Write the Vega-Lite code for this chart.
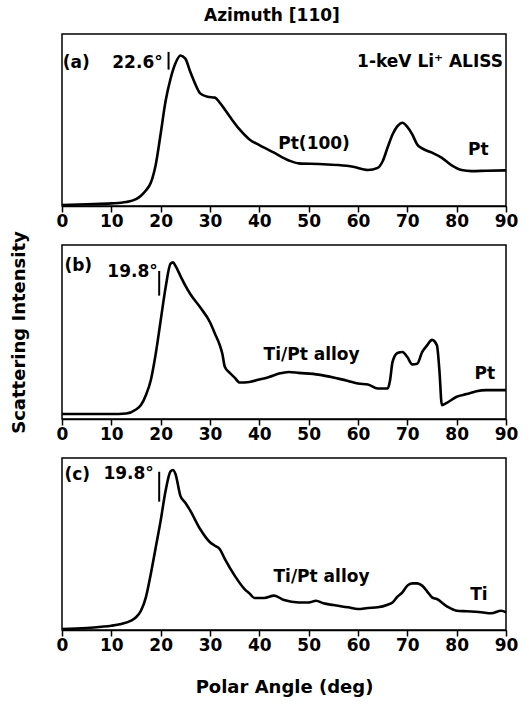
{
  "$schema": "https://vega.github.io/schema/vega-lite/v6.json",
  "padding": {"left": 9, "top": 7, "right": 12, "bottom": 5},
  "background": "white",
  "title": {"text": "Azimuth [110]", "font": "DejaVu Sans", "fontWeight": "bold", "fontSize": 17, "anchor": "middle", "offset": 8, "dx": 8, "color": "black"},
  "config": {
    "view": {"stroke": "black", "strokeWidth": 1.5},
    "font": "DejaVu Sans",
    "axis": {"labelFont": "DejaVu Sans", "titleFont": "DejaVu Sans", "labelColor": "black", "titleColor": "black", "domainColor": "black", "tickColor": "black", "labelFontWeight": "bold", "titleFontWeight": "bold", "grid": false}
  },
  "datasets": {
    "curves": [
      {"p":"a","x":0,"y":0.006},{"p":"a","x":5,"y":0.01},{"p":"a","x":10,"y":0.015},{"p":"a","x":13,"y":0.023},{"p":"a","x":15,"y":0.04},{"p":"a","x":16,"y":0.06},{"p":"a","x":17,"y":0.09},{"p":"a","x":18,"y":0.135},{"p":"a","x":19,"y":0.24},{"p":"a","x":20,"y":0.42},{"p":"a","x":21,"y":0.61},{"p":"a","x":22,"y":0.74},{"p":"a","x":23,"y":0.83},{"p":"a","x":24,"y":0.875},{"p":"a","x":25,"y":0.857},{"p":"a","x":26,"y":0.78},{"p":"a","x":27,"y":0.71},{"p":"a","x":28,"y":0.655},{"p":"a","x":29.5,"y":0.635},{"p":"a","x":31,"y":0.63},{"p":"a","x":32,"y":0.6},{"p":"a","x":34,"y":0.52},{"p":"a","x":36,"y":0.445},{"p":"a","x":38,"y":0.387},{"p":"a","x":40,"y":0.354},{"p":"a","x":43,"y":0.31},{"p":"a","x":46,"y":0.265},{"p":"a","x":48,"y":0.248},{"p":"a","x":52,"y":0.244},{"p":"a","x":56,"y":0.238},{"p":"a","x":59,"y":0.228},{"p":"a","x":62,"y":0.209},{"p":"a","x":64,"y":0.222},{"p":"a","x":65,"y":0.26},{"p":"a","x":66,"y":0.34},{"p":"a","x":67,"y":0.416},{"p":"a","x":68,"y":0.464},{"p":"a","x":69,"y":0.484},{"p":"a","x":70,"y":0.46},{"p":"a","x":71,"y":0.416},{"p":"a","x":72,"y":0.358},{"p":"a","x":73,"y":0.335},{"p":"a","x":75,"y":0.31},{"p":"a","x":77,"y":0.28},{"p":"a","x":79,"y":0.236},{"p":"a","x":81,"y":0.209},{"p":"a","x":83,"y":0.203},{"p":"a","x":86,"y":0.205},{"p":"a","x":90,"y":0.207},
      {"p":"b","x":0,"y":0.029},{"p":"b","x":10,"y":0.029},{"p":"b","x":13,"y":0.032},{"p":"b","x":15,"y":0.055},{"p":"b","x":16,"y":0.08},{"p":"b","x":17,"y":0.137},{"p":"b","x":18,"y":0.223},{"p":"b","x":19,"y":0.375},{"p":"b","x":20,"y":0.566},{"p":"b","x":21,"y":0.756},{"p":"b","x":22,"y":0.893},{"p":"b","x":22.5,"y":0.9},{"p":"b","x":23,"y":0.88},{"p":"b","x":24,"y":0.823},{"p":"b","x":25,"y":0.766},{"p":"b","x":26,"y":0.718},{"p":"b","x":28,"y":0.642},{"p":"b","x":30,"y":0.556},{"p":"b","x":31,"y":0.49},{"p":"b","x":32,"y":0.423},{"p":"b","x":32.5,"y":0.375},{"p":"b","x":33,"y":0.3},{"p":"b","x":34,"y":0.265},{"p":"b","x":35,"y":0.238},{"p":"b","x":36,"y":0.21},{"p":"b","x":38,"y":0.213},{"p":"b","x":40,"y":0.227},{"p":"b","x":42,"y":0.242},{"p":"b","x":44,"y":0.261},{"p":"b","x":46,"y":0.27},{"p":"b","x":48,"y":0.265},{"p":"b","x":52,"y":0.255},{"p":"b","x":56,"y":0.232},{"p":"b","x":58,"y":0.219},{"p":"b","x":60,"y":0.204},{"p":"b","x":62,"y":0.198},{"p":"b","x":64,"y":0.175},{"p":"b","x":66,"y":0.175},{"p":"b","x":66.5,"y":0.223},{"p":"b","x":67,"y":0.328},{"p":"b","x":68,"y":0.379},{"p":"b","x":69,"y":0.385},{"p":"b","x":70,"y":0.356},{"p":"b","x":71,"y":0.314},{"p":"b","x":72,"y":0.318},{"p":"b","x":73,"y":0.385},{"p":"b","x":74,"y":0.423},{"p":"b","x":75,"y":0.455},{"p":"b","x":76,"y":0.423},{"p":"b","x":76.5,"y":0.28},{"p":"b","x":77,"y":0.08},{"p":"b","x":78,"y":0.093},{"p":"b","x":80,"y":0.128},{"p":"b","x":82,"y":0.143},{"p":"b","x":84,"y":0.16},{"p":"b","x":86,"y":0.166},{"p":"b","x":90,"y":0.166},
      {"p":"c","x":0,"y":0.006},{"p":"c","x":5,"y":0.012},{"p":"c","x":8,"y":0.019},{"p":"c","x":10,"y":0.025},{"p":"c","x":12,"y":0.035},{"p":"c","x":14,"y":0.054},{"p":"c","x":15,"y":0.074},{"p":"c","x":16,"y":0.112},{"p":"c","x":17,"y":0.19},{"p":"c","x":18,"y":0.326},{"p":"c","x":19,"y":0.48},{"p":"c","x":20,"y":0.636},{"p":"c","x":21,"y":0.81},{"p":"c","x":22,"y":0.922},{"p":"c","x":22.5,"y":0.93},{"p":"c","x":23,"y":0.907},{"p":"c","x":24,"y":0.78},{"p":"c","x":25,"y":0.74},{"p":"c","x":26,"y":0.694},{"p":"c","x":28,"y":0.587},{"p":"c","x":30,"y":0.51},{"p":"c","x":31,"y":0.49},{"p":"c","x":32,"y":0.47},{"p":"c","x":33,"y":0.413},{"p":"c","x":35,"y":0.316},{"p":"c","x":37,"y":0.238},{"p":"c","x":38,"y":0.213},{"p":"c","x":39,"y":0.186},{"p":"c","x":41,"y":0.186},{"p":"c","x":43,"y":0.2},{"p":"c","x":45,"y":0.174},{"p":"c","x":48,"y":0.16},{"p":"c","x":50,"y":0.16},{"p":"c","x":51.5,"y":0.17},{"p":"c","x":53,"y":0.155},{"p":"c","x":55,"y":0.145},{"p":"c","x":58,"y":0.132},{"p":"c","x":60,"y":0.122},{"p":"c","x":62,"y":0.128},{"p":"c","x":64,"y":0.132},{"p":"c","x":66,"y":0.147},{"p":"c","x":67,"y":0.16},{"p":"c","x":68,"y":0.194},{"p":"c","x":69,"y":0.219},{"p":"c","x":70,"y":0.258},{"p":"c","x":71,"y":0.271},{"p":"c","x":72,"y":0.271},{"p":"c","x":73,"y":0.258},{"p":"c","x":74,"y":0.225},{"p":"c","x":75,"y":0.19},{"p":"c","x":76,"y":0.18},{"p":"c","x":78,"y":0.138},{"p":"c","x":80,"y":0.112},{"p":"c","x":82,"y":0.109},{"p":"c","x":85,"y":0.103},{"p":"c","x":87,"y":0.097},{"p":"c","x":89,"y":0.112},{"p":"c","x":90,"y":0.103}
    ],
    "ticks": [
      {"p":"a","x":21.6,"y":0.793,"y2":0.896},
      {"p":"b","x":19.7,"y":0.709,"y2":0.851},
      {"p":"c","x":19.7,"y":0.746,"y2":0.92}
    ],
    "labels": [
      {"p":"a","x":2.9,"y":0.832,"t":"(a)"},
      {"p":"a","x":15.3,"y":0.832,"t":"22.6°"},
      {"p":"a","x":74.6,"y":0.84,"t":"1-keV Li⁺ ALISS"},
      {"p":"a","x":51.1,"y":0.358,"t":"Pt(100)"},
      {"p":"a","x":84.4,"y":0.323,"t":"Pt"},
      {"p":"b","x":3.3,"y":0.88,"t":"(b)"},
      {"p":"b","x":14.3,"y":0.842,"t":"19.8°"},
      {"p":"b","x":50.6,"y":0.366,"t":"Ti/Pt alloy"},
      {"p":"b","x":85.7,"y":0.257,"t":"Pt"},
      {"p":"c","x":3.1,"y":0.901,"t":"(c)"},
      {"p":"c","x":13.5,"y":0.907,"t":"19.8°"},
      {"p":"c","x":52.6,"y":0.306,"t":"Ti/Pt alloy"},
      {"p":"c","x":84.5,"y":0.205,"t":"Ti"}
    ]
  },
  "bounds": "flush",
  "spacing": 39,
  "vconcat": [
    {
      "width": 444, "height": 172,
      "layer": [
        {"data": {"name": "curves"}, "transform": [{"filter": "datum.p === 'a'"}],
         "mark": {"type": "line", "color": "black", "strokeWidth": 2.6, "interpolate": "monotone"},
         "encoding": {
           "x": {"field": "x", "type": "quantitative", "scale": {"domain": [0, 90], "nice": false}, "axis": {"values": [0,5,10,15,20,25,30,35,40,45,50,55,60,65,70,75,80,85,90], "labelExpr": "datum.value % 10 === 0 ? datum.label : ''", "labelFontSize": 17, "tickSize": 6, "tickWidth": 1.5, "domainWidth": 1.5, "labelPadding": 1, "title": null, "labelFlush": false}},
           "y": {"field": "y", "type": "quantitative", "scale": {"domain": [0, 1], "nice": false}, "axis": {"labels": false, "ticks": false, "domain": false, "title": null}}
         }},
        {"data": {"name": "ticks"}, "transform": [{"filter": "datum.p === 'a'"}],
         "mark": {"type": "rule", "color": "black", "strokeWidth": 2},
         "encoding": {"x": {"field": "x", "type": "quantitative"}, "y": {"field": "y", "type": "quantitative"}, "y2": {"field": "y2"}}},
        {"data": {"name": "labels"}, "transform": [{"filter": "datum.p === 'a'"}],
         "mark": {"type": "text", "font": "DejaVu Sans", "fontWeight": "bold", "fontSize": 17, "color": "black", "align": "center", "baseline": "middle"},
         "encoding": {"x": {"field": "x", "type": "quantitative"}, "y": {"field": "y", "type": "quantitative"}, "text": {"field": "t"}}}
      ]
    },
    {
      "width": 444, "height": 174,
      "layer": [
        {"data": {"name": "curves"}, "transform": [{"filter": "datum.p === 'b'"}],
         "mark": {"type": "line", "color": "black", "strokeWidth": 2.6, "interpolate": "monotone"},
         "encoding": {
           "x": {"field": "x", "type": "quantitative", "scale": {"domain": [0, 90], "nice": false}, "axis": {"values": [0,5,10,15,20,25,30,35,40,45,50,55,60,65,70,75,80,85,90], "labelExpr": "datum.value % 10 === 0 ? datum.label : ''", "labelFontSize": 17, "tickSize": 6, "tickWidth": 1.5, "domainWidth": 1.5, "labelPadding": 1, "title": null, "labelFlush": false}},
           "y": {"field": "y", "type": "quantitative", "scale": {"domain": [0, 1], "nice": false}, "axis": {"labels": false, "ticks": false, "domain": false, "title": "Scattering Intensity", "titleFontSize": 18, "titlePadding": 34}}
         }},
        {"data": {"name": "ticks"}, "transform": [{"filter": "datum.p === 'b'"}],
         "mark": {"type": "rule", "color": "black", "strokeWidth": 2},
         "encoding": {"x": {"field": "x", "type": "quantitative"}, "y": {"field": "y", "type": "quantitative"}, "y2": {"field": "y2"}}},
        {"data": {"name": "labels"}, "transform": [{"filter": "datum.p === 'b'"}],
         "mark": {"type": "text", "font": "DejaVu Sans", "fontWeight": "bold", "fontSize": 17, "color": "black", "align": "center", "baseline": "middle"},
         "encoding": {"x": {"field": "x", "type": "quantitative"}, "y": {"field": "y", "type": "quantitative"}, "text": {"field": "t"}}}
      ]
    },
    {
      "width": 444, "height": 172,
      "layer": [
        {"data": {"name": "curves"}, "transform": [{"filter": "datum.p === 'c'"}],
         "mark": {"type": "line", "color": "black", "strokeWidth": 2.6, "interpolate": "monotone"},
         "encoding": {
           "x": {"field": "x", "type": "quantitative", "scale": {"domain": [0, 90], "nice": false}, "axis": {"values": [0,5,10,15,20,25,30,35,40,45,50,55,60,65,70,75,80,85,90], "labelExpr": "datum.value % 10 === 0 ? datum.label : ''", "labelFontSize": 17, "tickSize": 6, "tickWidth": 1.5, "domainWidth": 1.5, "labelPadding": 1, "title": "Polar Angle (deg)", "titleFontSize": 18, "titlePadding": 25, "labelFlush": false}},
           "y": {"field": "y", "type": "quantitative", "scale": {"domain": [0, 1], "nice": false}, "axis": {"labels": false, "ticks": false, "domain": false, "title": null}}
         }},
        {"data": {"name": "ticks"}, "transform": [{"filter": "datum.p === 'c'"}],
         "mark": {"type": "rule", "color": "black", "strokeWidth": 2},
         "encoding": {"x": {"field": "x", "type": "quantitative"}, "y": {"field": "y", "type": "quantitative"}, "y2": {"field": "y2"}}},
        {"data": {"name": "labels"}, "transform": [{"filter": "datum.p === 'c'"}],
         "mark": {"type": "text", "font": "DejaVu Sans", "fontWeight": "bold", "fontSize": 17, "color": "black", "align": "center", "baseline": "middle"},
         "encoding": {"x": {"field": "x", "type": "quantitative"}, "y": {"field": "y", "type": "quantitative"}, "text": {"field": "t"}}}
      ]
    }
  ]
}
